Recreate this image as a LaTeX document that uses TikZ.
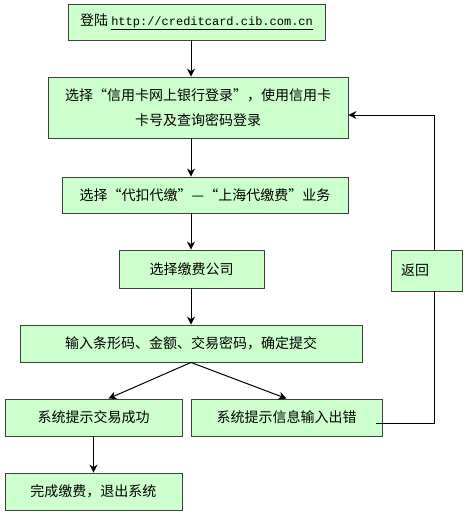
\documentclass[tikz,border=0pt]{standalone}
\usepackage{fontspec}
\setmainfont{Noto Sans CJK SC}
\setmonofont{Liberation Mono}
\usetikzlibrary{arrows.meta,positioning}

\definecolor{boxgreen}{RGB}{204,255,204}

\begin{document}
\begin{tikzpicture}[
    x=1pt, y=-1pt,
    box/.style={
        rectangle, draw=black!75, fill=boxgreen, line width=0.9pt,
        align=center, inner sep=0pt,
        font=\fontsize{14pt}{25pt}\selectfont
    },
    arrow/.style={-{Stealth[length=8pt,width=8pt]}, line width=1pt},
    line/.style={line width=1pt}
]
\useasboundingbox (0,0) rectangle (466,514);

% Nodes
\node[box, minimum width=257pt, minimum height=36pt] (login) at (196.5,22)
    {登陆 \underline{\fontsize{12pt}{14pt}\selectfont\ttfamily http://creditcard.cib.com.cn}};
\node[box, minimum width=300pt, minimum height=61pt] (enter) at (198,107.5)
    {选择“信用卡网上银行登录”，使用信用卡\\卡号及查询密码登录};
\node[box, minimum width=286pt, minimum height=36pt] (service) at (205,195)
    {选择“代扣代缴”—“上海代缴费”业务};
\node[box, minimum width=145pt, minimum height=38pt] (company) at (191.5,269)
    {选择缴费公司};
\node[box, minimum width=342pt, minimum height=37pt] (submit) at (191,343.5)
    {输入条形码、金额、交易密码，确定提交};
\node[box, minimum width=177pt, minimum height=37pt] (success) at (93.5,417.5)
    {系统提示交易成功};
\node[box, minimum width=191pt, minimum height=37pt] (error) at (286.5,417.5)
    {系统提示信息输入出错};
\node[box, minimum width=177pt, minimum height=37pt] (finish) at (93.5,491.5)
    {完成缴费，退出系统};
\node[box, minimum height=41pt, text width=51pt, inner xsep=10pt, align=left] (back) at (426.5,270.5)
    {返回};

\coordinate (axis) at (191,0);
\coordinate (retline) at (434,0);

% Arrows - main flow
\draw[arrow] (login.south -| axis) -- (enter.north -| axis);
\draw[arrow] (enter.south -| axis) -- (service.north -| axis);
\draw[arrow] (service.south -| axis) -- (company.north -| axis);
\draw[arrow] (company.south -| axis) -- (submit.north -| axis);
\draw[arrow] (submit.south -| axis) -- ([xshift=15pt]success.north);
\draw[arrow] (submit.south -| axis) -- (error.north);
\draw[arrow] (success.south) -- (finish.north);

% Return loop
\draw[line] ([xshift=-6pt,yshift=-5.5pt]error.east) -| (back.south -| retline);
\draw[arrow] (back.north -| retline) |- ([yshift=-7.5pt]enter.east);

\end{tikzpicture}
\end{document}
